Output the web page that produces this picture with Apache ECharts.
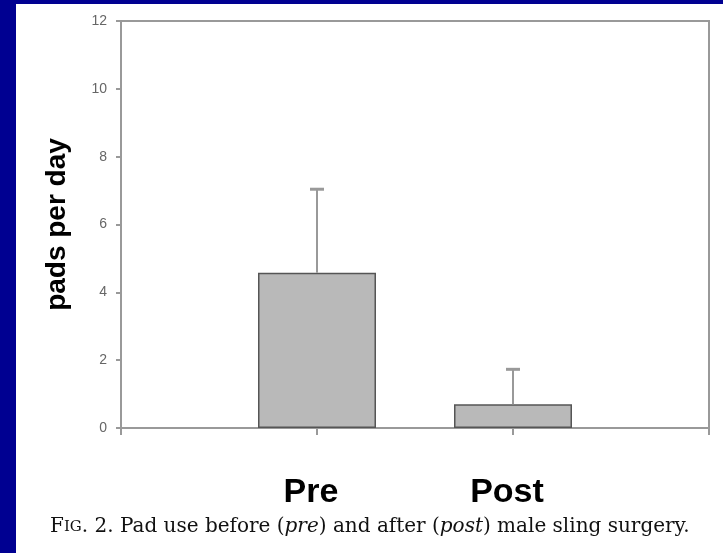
<!DOCTYPE html>
<html>
<head>
<meta charset="utf-8">
<script src="https://cdn.jsdelivr.net/npm/echarts@6/dist/echarts.min.js"></script>
<style>
  html, body { margin: 0; padding: 0; background: #000091; }
  #chart { width: 723px; height: 553px; }
</style>
</head>
<body>
<div id="chart"></div>
<script>
// data
var categories = ['', 'Pre', 'Post', ''];
var means = ['-', 4.58, 0.7, '-'];
var upper = ['-', 7.04, 1.73, '-'];

var chart = echarts.init(document.getElementById('chart'));

var errData = [];
for (var i = 0; i < categories.length; i++) {
  if (upper[i] !== '-') errData.push([i, means[i], upper[i]]);
}

var option = {
  backgroundColor: '#000091',
  animation: false,
  graphic: [
    { type: 'rect', left: 16, top: 4, z: -10, shape: { width: 707, height: 549 }, style: { fill: '#ffffff' } },
    {
      type: 'text', left: 50, top: 517, z: 10,
      style: {
        text: '{sc|F}{sm|IG}{sc|. 2. Pad use before (}{it|pre}{sc|) and after (}{it|post}{sc|) male sling surgery.}',
        rich: {
          sc: { fontFamily: 'DejaVu Serif', fontSize: 20, fill: '#111' },
          sm: { fontFamily: 'DejaVu Serif', fontSize: 15, fill: '#111' },
          it: { fontFamily: 'DejaVu Serif', fontSize: 20, fontStyle: 'italic', fill: '#111' }
        }
      }
    }
  ],
  grid: {
    left: 121, top: 21, right: 14, bottom: 125,
    show: true, borderColor: '#999', borderWidth: 2, backgroundColor: 'transparent'
  },
  xAxis: {
    type: 'category',
    data: categories,
    boundaryGap: false,
    axisLine: { lineStyle: { color: '#999', width: 2 } },
    axisTick: { show: true, length: 7, lineStyle: { color: '#999', width: 2 } },
    axisLabel: {
      margin: 48, color: '#000', fontFamily: 'Liberation Sans', fontWeight: 'bold', fontSize: 34,
      padding: [0, 12, 0, 0]
    }
  },
  yAxis: {
    type: 'value',
    min: 0, max: 12, interval: 2,
    name: 'pads per day',
    nameLocation: 'middle',
    nameGap: 50,
    nameTextStyle: { color: '#000', fontFamily: 'Liberation Sans', fontWeight: 'bold', fontSize: 28 },
    axisLine: { show: true, lineStyle: { color: '#999', width: 2 } },
    axisTick: { show: true, length: 5, lineStyle: { color: '#999', width: 2 } },
    axisLabel: { color: '#666', fontFamily: 'Liberation Sans', fontSize: 14, margin: 14 },
    splitLine: { show: false }
  },
  series: [
    {
      type: 'bar',
      data: means,
      barWidth: 118,
      itemStyle: { color: '#b9b9b9', borderColor: '#555', borderWidth: 1.5 },
      z: 2
    },
    {
      type: 'custom',
      data: errData,
      z: 3,
      renderItem: function (params, api) {
        var top = api.coord([api.value(0), api.value(2)]);
        var bot = api.coord([api.value(0), api.value(1)]);
        var hw = 7;
        return {
          type: 'group',
          children: [
            { type: 'line', shape: { x1: top[0], y1: top[1], x2: bot[0], y2: bot[1] }, style: { stroke: '#999', lineWidth: 2 } },
            { type: 'line', shape: { x1: top[0] - hw, y1: top[1], x2: top[0] + hw, y2: top[1] }, style: { stroke: '#999', lineWidth: 3 } }
          ]
        };
      }
    }
  ]
};

chart.setOption(option);
</script>
</body>
</html>
